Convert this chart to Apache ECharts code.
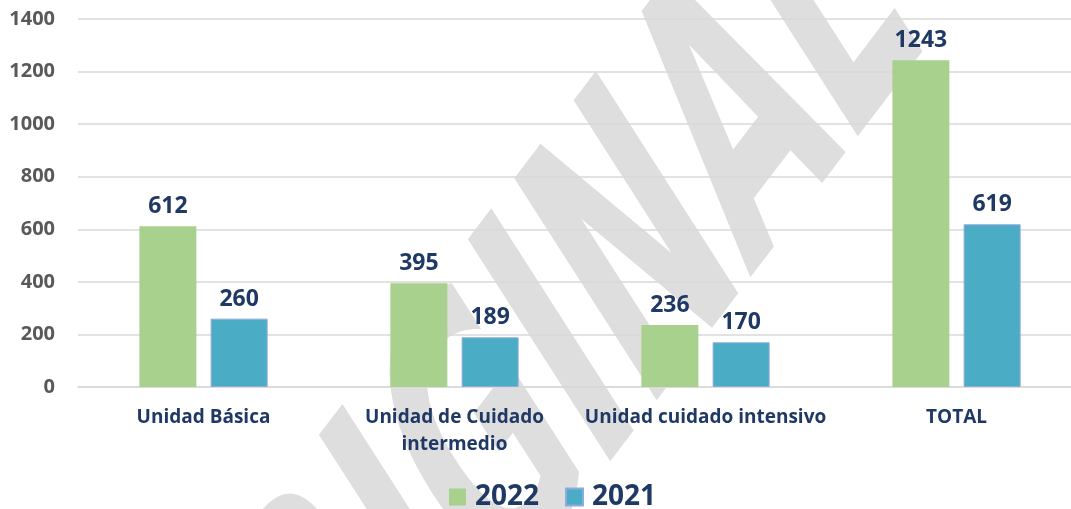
<!DOCTYPE html>
<html>
<head>
<meta charset="utf-8">
<script src="https://cdn.jsdelivr.net/npm/echarts@6/dist/echarts.min.js"></script>
<style>
    html, body {margin: 0; padding: 0; background: #fff; overflow: hidden;}
    #chart {width: 1071px; height: 509px;}
</style>
</head>
<body>
<div id="chart"></div>
<script>
    var categories = ['Unidad Básica', 'Unidad de Cuidado intermedio', 'Unidad cuidado intensivo', 'TOTAL'];
    var seriesNames = ['2022', '2021'];
    var values2022 = [612, 395, 236, 1243];
    var values2021 = [260, 189, 170, 619];
    var yTicks = [0, 200, 400, 600, 800, 1000, 1200, 1400];

    var navy = '#1f3864';
    var font = 'Open Sans';
    var labelStyle = {
        show: true,
        position: 'top',
        distance: 8,
        color: navy,
        fontFamily: font,
        fontWeight: 'bold',
        fontSize: 23
    };

    var chart = echarts.init(document.getElementById('chart'));
    var option = {
        animation: false,
        textStyle: {fontFamily: font},
        // watermark behind the chart
        graphic: {
            elements: [{
                type: 'text',
                z: -10,
                x: 536,
                y: 413,
                rotation: 0.92,
                scaleX: 0.606,
                skewX: -0.35,
                style: {
                    text: 'ORIGINAL',
                    fontFamily: 'DejaVu Sans',
                    fontWeight: 'bold',
                    fontSize: 340,
                    fill: '#dedede',
                    align: 'center',
                    verticalAlign: 'middle'
                }
            }]
        },
        legend: {
            data: seriesNames,
            left: 444,
            top: 478,
            itemWidth: 17,
            itemHeight: 17,
            itemGap: 26,
            icon: 'rect',
            textStyle: {
                color: navy,
                fontFamily: font,
                fontWeight: 'bold',
                fontSize: 28,
                padding: [0, 0, 0, 4]
            }
        },
        grid: {
            left: 78,
            top: 19,
            width: 1004,
            height: 368,
            outerBoundsMode: 'none'
        },
        xAxis: {
            type: 'category',
            data: categories,
            axisTick: {show: false},
            axisLine: {lineStyle: {color: '#d9d9d9', width: 1.5}},
            axisLabel: {
                interval: 0,
                margin: 17,
                color: navy,
                fontFamily: font,
                fontWeight: 'bold',
                fontSize: 19,
                lineHeight: 27,
                formatter: function (v) {
                    return v.replace('Cuidado ', 'Cuidado\n');
                }
            }
        },
        yAxis: {
            type: 'value',
            min: yTicks[0],
            max: yTicks[yTicks.length - 1],
            interval: 200,
            axisLine: {show: false},
            axisTick: {show: false},
            splitLine: {lineStyle: {color: '#d9d9d9', width: 1.5}},
            axisLabel: {
                margin: 23,
                color: '#595959',
                fontFamily: font,
                fontWeight: 'bold',
                fontSize: 20,
                formatter: function (v) {
                    return String(v);
                }
            }
        },
        series: [{
            name: seriesNames[0],
            type: 'bar',
            barWidth: 57,
            barGap: '25%',
            data: values2022,
            itemStyle: {color: '#a9d18e'},
            label: labelStyle
        }, {
            name: seriesNames[1],
            type: 'bar',
            barWidth: 57,
            barGap: '25%',
            data: values2021,
            itemStyle: {color: '#4bacc6', borderColor: '#8faadc', borderWidth: 1},
            label: labelStyle
        }]
    };
    chart.setOption(option);
</script>
</body>
</html>
